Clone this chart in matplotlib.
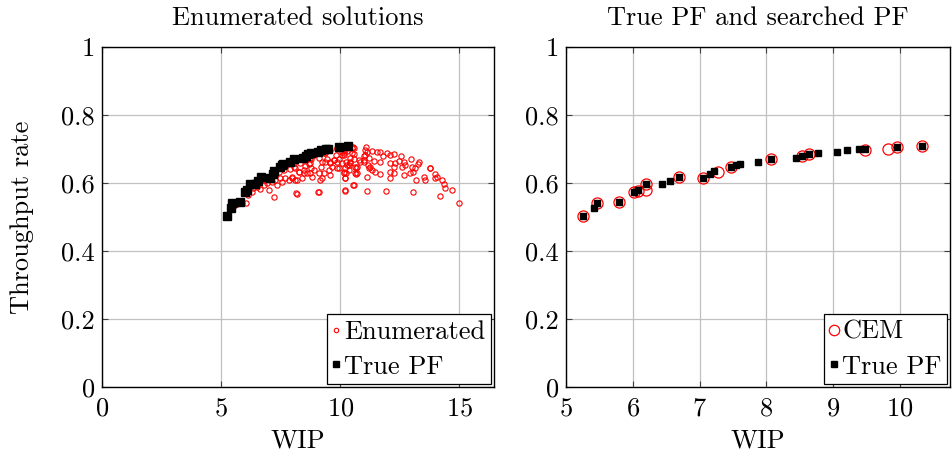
import matplotlib
matplotlib.use("Agg")
import matplotlib.pyplot as plt

plt.rcParams['font.family'] = ['cmr10', 'DejaVu Serif']
plt.rcParams['axes.formatter.use_mathtext'] = True
plt.rcParams['mathtext.fontset'] = 'cm'

# True Pareto front (WIP, throughput)
pf_wip = [5.25, 5.42, 5.46, 5.80, 6.02, 6.08, 6.20, 6.44, 6.56, 6.69, 7.05, 7.16, 7.22, 7.47,
          7.54, 7.60, 7.87, 8.07, 8.44, 8.54, 8.64, 8.77, 9.06, 9.21, 9.38, 9.48, 9.96, 10.33]
pf_thr = [0.504, 0.526, 0.540, 0.545, 0.573, 0.579, 0.597, 0.598, 0.606, 0.617, 0.616, 0.626,
          0.635, 0.648, 0.653, 0.657, 0.663, 0.670, 0.674, 0.679, 0.685, 0.687, 0.692, 0.697,
          0.699, 0.700, 0.707, 0.709]

# CEM searched PF
cem_wip = [5.25, 5.46, 5.80, 6.02, 6.08, 6.20, 6.20, 6.69, 7.05, 7.27, 7.47, 8.07, 8.54, 8.64,
           9.48, 9.82, 9.96, 10.33]
cem_thr = [0.504, 0.540, 0.545, 0.574, 0.577, 0.579, 0.597, 0.617, 0.616, 0.633, 0.648, 0.670,
           0.679, 0.685, 0.696, 0.700, 0.707, 0.709]

# Enumerated solutions
enum_wip = [
    10.07, 10.14, 10.28, 10.53, 10.59, 10.39, 10.42, 10.07, 10.35, 10.25, 10.21, 10.67, 10.67,
    11.09, 11.12, 11.33, 11.01, 10.98, 11.19, 11.23, 11.33, 11.44, 11.12, 11.68, 11.40, 11.68,
    11.54, 11.68, 11.79, 11.96, 12.10, 12.24, 12.10, 12.10, 12.10, 12.27, 12.24, 12.31, 12.55,
    12.45, 12.66, 12.73, 12.59, 12.69, 12.91, 12.97, 13.01, 13.05, 13.15, 13.32, 13.25, 13.19,
    13.75, 13.50, 13.57, 13.96, 14.06, 14.27, 14.34, 14.38, 14.69, 14.17, 14.97, 10.20, 10.56,
    11.12, 11.93, 13.05, 13.78, 13.99,
    8.18, 9.09, 8.07, 8.11, 8.25, 7.97, 8.18, 8.39, 8.46, 8.53, 8.67, 8.77, 8.81, 8.77, 9.09,
    9.23, 9.19, 9.23, 9.37, 9.44, 9.58, 9.58, 9.65, 9.72, 9.86, 9.83, 9.93, 10.07, 10.14, 10.25,
    10.35, 10.21, 10.14, 10.49, 10.56, 10.63, 10.70, 10.81, 10.98, 11.05, 11.15, 11.19, 9.30,
    9.86, 10.21, 11.05,
    6.05, 5.87, 5.66, 6.11, 6.29, 6.33, 6.50, 6.64, 6.78, 6.99, 6.92, 7.20, 7.13, 7.27, 7.34,
    7.48, 7.55, 7.69, 7.83, 7.97, 7.65, 7.90, 8.11, 8.15, 8.25, 8.32, 8.46, 8.60, 8.74, 8.74,
    8.88, 9.09, 9.05, 9.16, 9.30, 9.37, 9.51, 9.58, 9.72, 9.86, 9.93, 10.07, 10.14, 10.21,
    10.18, 10.28, 10.42, 10.49, 10.56, 10.63, 10.53, 10.70, 10.77, 9.86, 9.58, 9.30, 9.16,
    8.88, 8.74, 8.46, 8.04, 7.41, 7.27, 7.06, 6.85, 5.59]
enum_thr = [
    0.705, 0.687, 0.695, 0.705, 0.685, 0.673, 0.658, 0.658, 0.638, 0.630, 0.616, 0.643, 0.627,
    0.705, 0.692, 0.695, 0.678, 0.663, 0.673, 0.648, 0.638, 0.633, 0.617, 0.627, 0.665, 0.663,
    0.690, 0.692, 0.678, 0.687, 0.682, 0.685, 0.658, 0.633, 0.614, 0.646, 0.629, 0.658, 0.680,
    0.666, 0.663, 0.653, 0.648, 0.624, 0.629, 0.670, 0.648, 0.633, 0.643, 0.663, 0.655, 0.609,
    0.645, 0.619, 0.609, 0.627, 0.619, 0.609, 0.597, 0.584, 0.580, 0.563, 0.540, 0.577, 0.594,
    0.577, 0.577, 0.573, 0.645, 0.616,
    0.568, 0.574, 0.658, 0.643, 0.633, 0.618, 0.609, 0.614, 0.638, 0.651, 0.655, 0.643, 0.618,
    0.672, 0.674, 0.663, 0.648, 0.614, 0.687, 0.672, 0.623, 0.663, 0.648, 0.667, 0.643, 0.682,
    0.672, 0.692, 0.682, 0.663, 0.653, 0.643, 0.628, 0.702, 0.670, 0.648, 0.628, 0.663, 0.667,
    0.682, 0.653, 0.643, 0.700, 0.700, 0.697, 0.697,
    0.542, 0.540, 0.538, 0.565, 0.575, 0.584, 0.589, 0.581, 0.594, 0.580, 0.599, 0.560, 0.604,
    0.609, 0.594, 0.614, 0.604, 0.614, 0.609, 0.614, 0.638, 0.640, 0.609, 0.570, 0.633, 0.658,
    0.629, 0.630, 0.658, 0.629, 0.638, 0.630, 0.575, 0.609, 0.629, 0.663, 0.638, 0.658, 0.668,
    0.663, 0.643, 0.682, 0.633, 0.614, 0.578, 0.653, 0.663, 0.687, 0.702, 0.629, 0.594, 0.648,
    0.668, 0.702, 0.697, 0.687, 0.697, 0.682, 0.673, 0.668, 0.648, 0.631, 0.624, 0.619, 0.609,
    0.535]

yticks = [0, 0.2, 0.4, 0.6, 0.8, 1]
ytick_labels = ["0", "0.2", "0.4", "0.6", "0.8", "1"]
left_xticks = [0, 5, 10, 15]
right_xticks = [5, 6, 7, 8, 9, 10]

FS = 19
fig = plt.figure(figsize=(9.52, 4.59), dpi=100)
ax1 = fig.add_axes([102/952, 1-387/459, 392/952, 340/459])
ax2 = fig.add_axes([566/952, 1-387/459, 384/952, 340/459])


def style(ax):
    ax.grid(True, color='#c0c0c0', lw=0.9)
    ax.set_axisbelow(True)
    ax.tick_params(direction='in', length=4, width=0.8, top=True, right=True,
                   labelsize=FS, color='#404040')
    ax.tick_params(axis='x', pad=7)
    ax.tick_params(axis='y', pad=5)
    for s in ax.spines.values():
        s.set_linewidth(1.0)
        s.set_color('black')
    ax.set_ylim(0, 1)
    ax.set_yticks(yticks)
    ax.set_yticklabels(ytick_labels)
    ax.set_xlabel('WIP', fontsize=FS, labelpad=6)


ax1.plot(enum_wip, enum_thr, 'o', ms=3.8, mfc='none', mec='red', mew=0.8, label='Enumerated', ls='none')
ax1.plot(pf_wip, pf_thr, 's', ms=5.8, color='black', label='True PF', ls='none')
style(ax1)
ax1.set_xlim(0, 16.45)
ax1.set_xticks(left_xticks)
ax1.set_ylabel('Throughput rate', fontsize=FS, labelpad=20)
ax1.set_title('Enumerated solutions', fontsize=FS, pad=16)

ax2.plot(cem_wip, cem_thr, 'o', ms=8, mfc='none', mec='red', mew=0.9, label='CEM', ls='none')
ax2.plot(pf_wip, pf_thr, 's', ms=4.2, color='black', label='True PF', ls='none')
style(ax2)
ax2.set_xlim(5, 10.75)
ax2.set_xticks(right_xticks)
ax2.set_title('True PF and searched PF', fontsize=FS, pad=16)

legend_marker_sizes = {id(ax1): (3.2, 4.0), id(ax2): (7.5, 4.0)}
for ax in (ax1, ax2):
    leg = ax.legend(loc='lower right', fontsize=FS, frameon=True, fancybox=False,
                    edgecolor='black', framealpha=1, borderaxespad=0.1, handlelength=0.3,
                    handletextpad=0.15, borderpad=0.22, labelspacing=0.42, markerscale=1)
    leg.get_frame().set_linewidth(0.9)
    for handle, size in zip(leg.legend_handles, legend_marker_sizes[id(ax)]):
        handle.set_markersize(size)

fig.savefig('out.png', dpi=100)
